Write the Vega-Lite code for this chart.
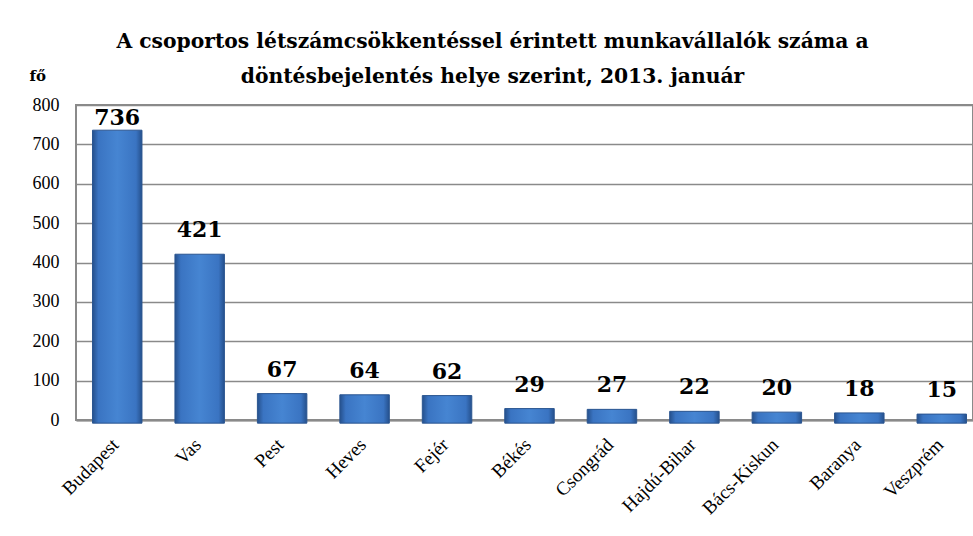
{
  "$schema": "https://vega.github.io/schema/vega-lite/v6.json",
  "autosize": {"type": "none"},
  "padding": {"left": 76, "top": 105, "right": 0, "bottom": 116},
  "width": 897,
  "height": 315,
  "background": "white",
  "data": {
    "values": [
      {"megye": "Budapest", "fo": 736},
      {"megye": "Vas", "fo": 421},
      {"megye": "Pest", "fo": 67},
      {"megye": "Heves", "fo": 64},
      {"megye": "Fejér", "fo": 62},
      {"megye": "Békés", "fo": 29},
      {"megye": "Csongrád", "fo": 27},
      {"megye": "Hajdú-Bihar", "fo": 22},
      {"megye": "Bács-Kiskun", "fo": 20},
      {"megye": "Baranya", "fo": 18},
      {"megye": "Veszprém", "fo": 15}
    ]
  },
  "title": {
    "text": ["A csoportos létszámcsökkentéssel érintett munkavállalók száma a", "döntésbejelentés helye szerint,  2013. január"],
    "font": "DejaVu Serif",
    "fontSize": 20.3,
    "fontWeight": "bold",
    "color": "black",
    "anchor": "middle",
    "dx": -32,
    "lineHeight": 35,
    "offset": -19
  },
  "config": {
    "view": {"stroke": "#8a8a8a", "strokeWidth": 2}
  },
  "encoding": {
    "x": {
      "field": "megye",
      "type": "nominal",
      "sort": null,
      "scale": {"paddingInner": 0.4, "paddingOuter": 0.2, "range": [0, 907]},
      "axis": {
        "title": null,
        "labelAngle": -45,
        "labelAlign": "right",
        "labelBaseline": "top",
        "labelFont": "Liberation Serif",
        "labelFontSize": 19,
        "labelColor": "black",
        "labelPadding": 15,
        "labelOffset": -8,
        "ticks": false,
        "domain": true,
        "domainColor": "#8a8a8a",
        "domainWidth": 2
      }
    },
    "y": {
      "field": "fo",
      "type": "quantitative",
      "scale": {"domain": [0, 800]},
      "axis": {
        "title": "fő",
        "titleAngle": 0,
        "titleAlign": "left",
        "titleBaseline": "alphabetic",
        "titleX": -47,
        "titleY": -25,
        "titleFont": "DejaVu Serif",
        "titleFontSize": 15,
        "titleFontWeight": "bold",
        "titleColor": "black",
        "tickCount": 8,
        "labelFont": "Liberation Serif",
        "labelFontSize": 18,
        "labelColor": "black",
        "labelPadding": 17,
        "ticks": false,
        "domain": false,
        "grid": true,
        "gridColor": "#8a8a8a",
        "gridWidth": 1.5
      }
    }
  },
  "layer": [
    {
      "mark": {
        "type": "bar",
        "stroke": "#2a5590",
        "strokeWidth": 1,
        "color": {
          "gradient": "linear",
          "x1": 0, "x2": 1, "y1": 0, "y2": 0,
          "stops": [
            {"offset": 0, "color": "#25508c"},
            {"offset": 0.12, "color": "#3a74c2"},
            {"offset": 0.5, "color": "#4685d2"},
            {"offset": 0.88, "color": "#3a74c2"},
            {"offset": 1, "color": "#25508c"}
          ]
        }
      },
      "encoding": {
        "y2": {"datum": -8}
      }
    },
    {
      "transform": [{"filter": "datum.fo > 700"}],
      "mark": {
        "type": "text",
        "font": "DejaVu Serif",
        "fontSize": 22,
        "fontWeight": "bold",
        "color": "black",
        "baseline": "bottom",
        "dy": 0
      },
      "encoding": {
        "text": {"field": "fo", "type": "quantitative"}
      }
    },
    {
      "transform": [{"filter": "datum.fo <= 700"}],
      "mark": {
        "type": "text",
        "font": "DejaVu Serif",
        "fontSize": 22,
        "fontWeight": "bold",
        "color": "black",
        "baseline": "bottom",
        "dy": -12
      },
      "encoding": {
        "text": {"field": "fo", "type": "quantitative"}
      }
    }
  ]
}
